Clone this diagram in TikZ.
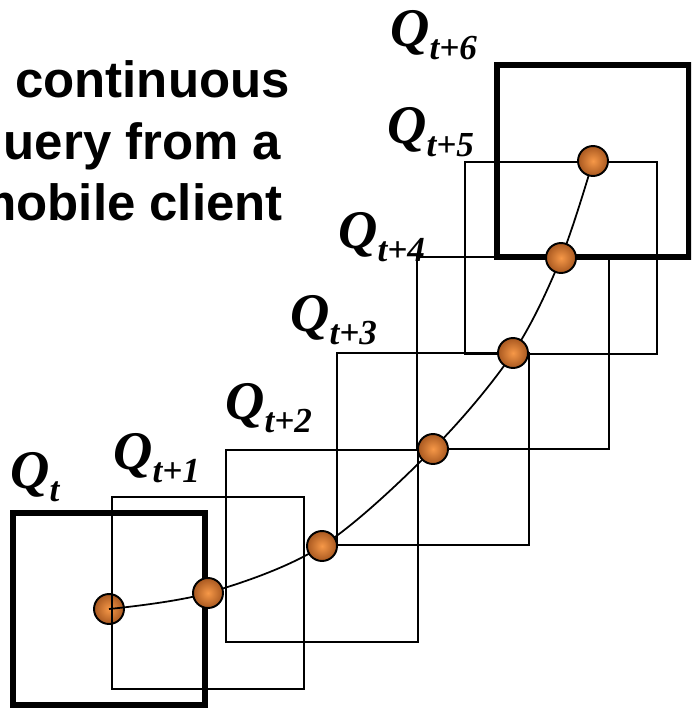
\documentclass[tikz,border=0pt]{standalone}
\usepackage{fontspec}
\setmainfont{Liberation Serif}
\newfontfamily\headfont{Liberation Sans}
\usetikzlibrary{positioning}

\definecolor{ballin}{RGB}{246,152,72}
\definecolor{ballout}{RGB}{168,88,32}

% window label: bold italic Q with a lowered subscript
\newcommand{\qwin}[1]{{\bfseries\itshape Q}\raisebox{-0.26cm}{\fontsize{20}{22}\selectfont\bfseries\itshape #1}}

\begin{document}
\begin{tikzpicture}[
  x=0.02cm, y=-0.02cm,
  win/.style={draw, line width=1.3pt, minimum size=3.84cm, inner sep=0pt},
  bigwin/.style={win, line width=3pt},
  client/.style={circle, draw, line width=1.1pt, minimum size=0.6cm, inner sep=0pt, inner color=ballin, outer color=ballout},
  qname/.style={anchor=north west, inner sep=0pt, font=\fontsize{31}{34}\selectfont}
]
\clip (0,0) rectangle (691,710);

% positions of the client over time
\foreach \n/\x/\y in {0/109/609, 1/208/593, 2/322/546, 3/433/449, 4/513/353, 5/561/258, 6/593/161}
  \coordinate (c\n) at (\x,\y);

\node[client] (b0) at (c0) {};

% query windows
\node[bigwin] (w0) at (c0) {};
\foreach \n in {1,...,5}
  \node[win] (w\n) at (c\n) {};
\node[bigwin] (w6) at (c6) {};

% path of the client
\draw[line width=1pt] plot[smooth, tension=0.55] coordinates {(c0) (c1) (c2) (c3) (c4) (c5) (c6)};

\foreach \n in {1,...,6}
  \node[client] (b\n) at (c\n) {};

% window names
\foreach \n/\s/\x/\y in {0/t/10/452, 1/t+1/113/433, 2/t+2/225/383, 3/t+3/290/295, 4/t+4/338/212, 5/t+5/387/107, 6/t+6/390/10}
  \node[qname] (q\n) at (\x,\y) {\qwin{\s}};

\node[anchor=north, align=center, inner sep=0pt, font=\headfont\bfseries\fontsize{29}{35.2}\selectfont] (title) at (127,60)
  {A continuous\\query from a\\mobile client};
\end{tikzpicture}
\end{document}
